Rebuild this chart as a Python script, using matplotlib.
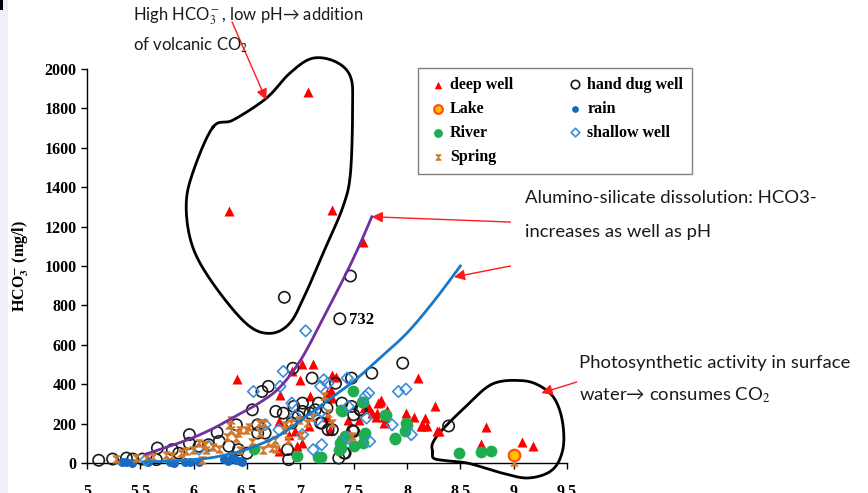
import numpy as np
import matplotlib.pyplot as plt
from matplotlib.patches import Rectangle

# pH / HCO3- (mg/l)
dw_ph = [7.07, 6.33, 7.30, 7.59, 6.41, 6.81, 6.80, 6.80, 6.92, 7.02, 7.00, 7.12, 6.89, 6.95,
         6.97, 7.02, 7.08, 7.09, 7.25, 7.30, 7.33, 7.30, 7.25, 7.28, 7.45, 7.55, 7.60, 7.62,
         7.67, 7.73, 7.76, 7.72, 7.78, 7.81, 7.78, 7.99, 8.07, 8.10, 8.17, 8.15, 8.26, 8.28,
         7.29, 7.75, 7.79, 7.64, 7.71, 8.19, 8.13, 8.30, 8.74, 8.69, 9.08, 9.18, 7.45]
dw_hco3 = [1885, 1281, 1284, 1123, 426, 343, 211, 59, 465, 503, 422, 503, 144, 160,
           84, 101, 186, 338, 355, 448, 439, 329, 236, 169, 220, 220, 279, 287,
           253, 304, 321, 253, 236, 270, 203, 253, 236, 431, 228, 186, 287, 160,
           370, 311, 210, 279, 235, 188, 188, 164, 184, 96, 108, 86, 160]

hdw_ph = [5.11, 5.24, 5.37, 5.43, 5.52, 5.65, 5.66, 5.80,
          5.86, 5.96, 5.96, 6.05, 6.14, 6.22, 6.24, 6.33,
          6.40, 6.42, 6.50, 6.55, 6.60, 6.60, 6.64, 6.70,
          6.67, 6.77, 6.85, 6.84, 6.88, 6.89, 6.93, 6.94,
          7.02, 7.02, 6.92, 6.98, 7.11, 7.09, 7.14, 7.17,
          7.19, 7.25, 7.26, 7.30, 7.33, 7.36, 7.37, 7.39,
          7.42, 7.47, 7.48, 7.48, 7.50, 7.50, 7.56, 7.67,
          7.96, 8.39, 7.41, 7.20, 7.57, 7.49]
hdw_hco3 = [14, 20, 25, 20, 20, 17, 76, 68,
            50, 144, 100, 85, 93, 155, 110, 85,
            194, 68, 50, 270, 194, 152, 363, 389,
            152, 262, 841, 253, 68, 17, 481, 287,
            304, 262, 203, 236, 431, 253, 270, 304,
            203, 279, 169, 169, 405, 25, 732, 304,
            50, 949, 431, 287, 245, 160, 270, 456,
            507, 188, 51, 203, 269, 164]

lake_ph = [9.0]
lake_hco3 = [41]

rain_ph = [5.33, 5.37, 5.42, 5.57, 5.78, 5.82, 5.92, 5.97, 6.05, 6.28, 6.32, 6.36, 6.40, 6.43, 6.45]
rain_hco3 = [3, 5, 2, 3, 4, 2, 5, 3, 4, 18, 12, 25, 15, 8, 5]

river_ph = [6.97, 7.17, 7.39, 7.49, 7.59, 7.61, 7.59, 7.50, 7.37, 7.36, 7.42, 7.79, 7.89, 7.99,
            7.98, 7.38, 7.58, 7.80, 8.00, 7.89, 7.60, 7.39, 7.38, 7.19, 8.49, 8.69, 8.79, 6.57]
river_hco3 = [34, 30, 262, 363, 312, 152, 101, 84, 101, 68, 135, 245, 122, 203,
              160, 269, 311, 244, 193, 127, 142, 117, 76, 32, 49, 57, 62, 70]

sw_ph = [7.05, 6.84, 6.81, 6.56, 6.92, 7.19, 7.22, 7.26, 7.44, 7.45, 7.61, 7.64, 7.62, 7.65, 7.86,
         7.92, 7.99, 8.04, 7.20, 7.16, 7.12, 7.20, 7.45, 7.02, 6.80, 6.67, 6.14, 6.05, 5.55, 6.95]
sw_hco3 = [671, 465, 389, 363, 304, 389, 422, 405, 431, 287, 338, 355, 228, 110, 194,
           363, 375, 144, 262, 220, 68, 93, 127, 144, 169, 194, 85, 70, 15, 240]

spring_ph = [5.27, 5.46, 5.55, 5.62, 5.74, 5.80, 5.88, 5.93, 5.99, 6.05, 6.11, 6.08, 6.12, 6.18,
             6.24, 6.31, 6.33, 6.35, 6.35, 6.40, 6.42, 6.43, 6.43, 6.49, 6.52, 6.55, 6.61, 6.62,
             6.65, 6.66, 6.70, 6.73, 6.76, 6.77, 6.85, 6.86, 6.88, 6.91, 6.99, 7.01, 7.06, 7.11,
             7.22, 7.26, 7.30, 7.48, 9.0]
spring_hco3 = [20, 25, 25, 30, 42, 35, 50, 59, 68, 101, 93, 15, 66, 83,
               70, 134, 194, 168, 218, 127, 152, 66, 168, 169, 184, 108, 203, 152,
               66, 203, 101, 76, 117, 70, 168, 194, 117, 203, 218, 142, 203, 236,
               338, 253, 203, 135, 5]

# trend lines
purple_ph = [5.55, 5.8, 6.0, 6.2, 6.4, 6.6, 6.8, 7.0, 7.2, 7.4, 7.55, 7.67]
purple_hco3 = [45, 90, 130, 180, 240, 300, 380, 520, 720, 930, 1100, 1250]
blue_ph = [5.53, 5.8, 6.0, 6.2, 6.5, 6.8, 7.0, 7.25, 7.5, 7.75, 8.0, 8.25, 8.5]
blue_hco3 = [5, 10, 18, 30, 70, 140, 215, 315, 415, 535, 660, 820, 1000]

# hand drawn enclosures
volc_ph = [6.18, 6.37, 6.68, 6.90, 7.11, 7.33, 7.47, 7.49, 7.47, 7.40, 7.24, 7.05, 6.90, 6.71,
           6.49, 6.18, 5.99, 5.93, 5.99]
volc_hco3 = [1704, 1741, 1851, 1978, 2054, 2037, 1961, 1809, 1471, 1301, 1098, 861, 709, 658,
             709, 912, 1098, 1301, 1471]
photo_ph = [8.24, 8.25, 8.36, 8.58, 8.89, 9.14, 9.36, 9.46, 9.46, 9.39, 9.26, 9.08, 8.80, 8.55,
            8.33, 8.24]
photo_hco3 = [57, 24, 12, -2, -51, -76, -36, 66, 202, 320, 387, 418, 401, 286, 168, 100]


def catmull(p, closed, n=16):
    p = np.asarray(p, dtype=float)
    m = len(p)
    if not closed:
        p = np.vstack([p[0], p, p[-1]])
    out = []
    segs = range(m) if closed else range(1, m)
    for i in segs:
        if closed:
            p0, p1, p2, p3 = p[i - 1], p[i], p[(i + 1) % m], p[(i + 2) % m]
        else:
            p0, p1, p2, p3 = p[i - 1], p[i], p[i + 1], p[i + 2]
        for t in np.linspace(0, 1, n, endpoint=False):
            out.append(0.5 * ((2 * p1) + (-p0 + p2) * t + (2 * p0 - 5 * p1 + 4 * p2 - p3) * t * t
                              + (-p0 + 3 * p1 - 3 * p2 + p3) * t ** 3))
    out.append(p[0] if closed else p[-1])
    out = np.array(out)
    return out[:, 0], out[:, 1]


plt.rcParams['mathtext.fontset'] = 'stix'
serif = 'Liberation Serif'
sans = ['Lato', 'DejaVu Sans']

fig = plt.figure(figsize=(8.68, 4.93), dpi=100)
fig.patches.append(Rectangle((0, 0), 8 / 868, 1, transform=fig.transFigure,
                             facecolor='#eef0f9', edgecolor='none'))
fig.patches.append(Rectangle((0, 1 - 10 / 493), 3 / 868, 10 / 493, transform=fig.transFigure,
                             facecolor='black', edgecolor='none'))

ax = fig.add_axes([87 / 868, 1 - 463 / 493, 480 / 868, 394 / 493])

ax.scatter(dw_ph, dw_hco3, marker='^', s=52, color='#ff0000', lw=0, label='deep well',
           zorder=3, clip_on=False)
ax.scatter(hdw_ph, hdw_hco3, marker='o', s=66, facecolor='none', edgecolor='#1a1a1a', lw=1.2,
           label='hand dug well', zorder=3, clip_on=False)
ax.scatter(lake_ph, lake_hco3, marker='o', s=70, facecolor='#ffc000', edgecolor='#ff4d0d', lw=1.5,
           label='Lake', zorder=4, clip_on=False)
ax.scatter(rain_ph, rain_hco3, marker='o', s=42, color='#1769c2', lw=0, label='rain',
           zorder=3, clip_on=False)
ax.scatter(river_ph, river_hco3, marker='o', s=72, color='#1fae4f', lw=0, label='River',
           zorder=3, clip_on=False)
ax.scatter(sw_ph, sw_hco3, marker='D', s=34, facecolor='none', edgecolor='#3a8ddb', lw=1.2,
           label='shallow well', zorder=3, clip_on=False)
hourglass = [(-1, 1), (1, 1), (-1, -1), (1, -1), (-1, 1)]
ax.scatter(spring_ph, spring_hco3, marker=hourglass, s=28, color='#d0782c', lw=0.6,
           label='Spring', zorder=3, clip_on=False)

cx, cy = catmull(list(zip(purple_ph, purple_hco3)), closed=False)
ax.plot(cx, cy, color='#7030a0', lw=2, zorder=4)
cx, cy = catmull(list(zip(blue_ph, blue_hco3)), closed=False)
ax.plot(cx, cy, color='#1a78c8', lw=2, zorder=4)

vx, vy = catmull(list(zip(volc_ph, volc_hco3)), closed=True)
ax.plot(vx, vy, color='black', lw=2, zorder=2, clip_on=False)
px, py = catmull(list(zip(photo_ph, photo_hco3)), closed=True)
ax.plot(px, py, color='black', lw=2, zorder=2, clip_on=False)

ax.text(7.46, 726, '732', fontfamily=serif, fontweight='bold', fontsize=12, va='center')

ax.set_xlim(5, 9.5)
ax.set_ylim(0, 2000)
ax.set_xticks(np.arange(5, 9.51, 0.5))
ax.set_xticklabels(['5', '5.5', '6', '6.5', '7', '7.5', '8', '8.5', '9', '9.5'])
ax.set_yticks(np.arange(0, 2001, 200))
for s in ['top', 'right']:
    ax.spines[s].set_visible(False)
for s in ['left', 'bottom']:
    ax.spines[s].set_linewidth(1.0)
ax.tick_params(direction='out', length=4, width=1)
ax.tick_params(axis='x', pad=11)
for lab in ax.get_xticklabels() + ax.get_yticklabels():
    lab.set_fontfamily(serif)
    lab.set_fontweight('bold')
    lab.set_fontsize(11.5)
ax.set_ylabel(r'HCO$_\mathbf{3}^\mathbf{-}$ (mg/l)', fontfamily=serif, fontweight='bold',
              fontsize=11.5, labelpad=10)

# arrows and notes
arrow = dict(arrowstyle='-|>', color='#ff1a1a', lw=1, mutation_scale=16, shrinkA=0, shrinkB=0)
ax.annotate('', xy=(6.68, 1843), xytext=(6.36, 2239), arrowprops=arrow, annotation_clip=False)
ax.annotate('', xy=(7.67, 1250), xytext=(8.97, 1223), arrowprops=arrow, annotation_clip=False)
ax.annotate('', xy=(8.44, 944), xytext=(8.97, 1000), arrowprops=arrow, annotation_clip=False)
ax.annotate('', xy=(9.26, 355), xytext=(9.59, 411), arrowprops=arrow, annotation_clip=False)


def note(x, y, s, size=13.3):
    fig.text(x / 868, 1 - y / 493, s, family=sans, fontsize=size, va='center', ha='left',
             color='#1a1a1a')


note(133, 16, 'High HCO$_3^-$, low pH\u2192 addition', size=12)
note(133, 45, 'of volcanic CO$_2$', size=12)
note(525, 198, 'Alumino-silicate dissolution: HCO3-')
note(525, 232, 'increases as well as pH')
note(579, 363, 'Photosynthetic activity in surface')
note(579, 395, 'water\u2192 consumes CO$_2$')

handles, labels = ax.get_legend_handles_labels()
order = ['deep well', 'Lake', 'River', 'Spring', 'hand dug well', 'rain', 'shallow well']
hmap = dict(zip(labels, handles))
leg = fig.legend([hmap[k] for k in order], order, loc='upper left', ncol=2,
                 bbox_to_anchor=(418 / 868, 1 - 68 / 493), bbox_transform=fig.transFigure,
                 borderaxespad=0,
                 prop={'family': serif, 'weight': 'bold', 'size': 11.5},
                 fancybox=False, edgecolor='#808080', framealpha=1,
                 handletextpad=0.05, columnspacing=3.2, labelspacing=0.5,
                 borderpad=0.55, handlelength=1.4, markerscale=0.75)
leg.get_frame().set_linewidth(1)

fig.savefig('out.png', dpi=100)
